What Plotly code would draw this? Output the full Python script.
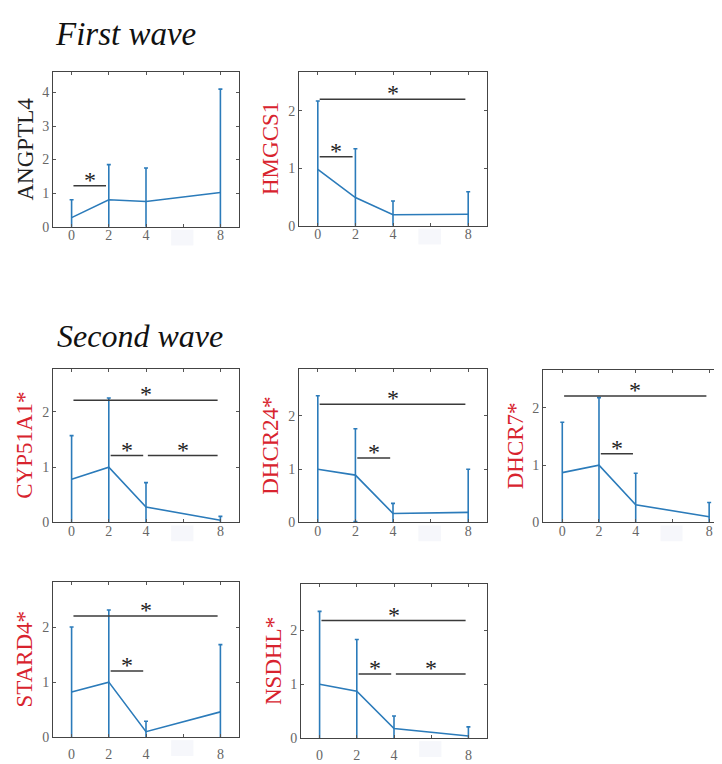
import plotly.graph_objects as go

# page body adds an 8px margin, so the figure is drawn 8px in from the corner
OFF = 8
W, H = 722 - OFF, 764 - OFF

time_points = [0, 2, 4, 8]
tick_vals = [0, 2, 4, 6, 8]
tick_text = ["0", "2", "4", "", "8"]

gene_names = ["ANGPTL4", "HMGCS1", "CYP51A1*", "DHCR24*", "DHCR7*", "STARD4*", "NSDHL*"]
gene_red = [False, True, True, True, True, True, True]

angptl4_mean = [0.27, 0.80, 0.75, 1.02]
angptl4_err = [0.53, 1.05, 1.00, 3.08]
hmgcs1_mean = [0.98, 0.49, 0.19, 0.20]
hmgcs1_err = [1.19, 0.85, 0.24, 0.39]
cyp51a1_mean = [0.78, 1.00, 0.28, 0.04]
cyp51a1_err = [0.79, 1.25, 0.44, 0.07]
dhcr24_mean = [1.00, 0.89, 0.17, 0.19]
dhcr24_err = [1.38, 0.87, 0.19, 0.81]
dhcr7_mean = [0.87, 1.00, 0.31, 0.10]
dhcr7_err = [0.88, 1.18, 0.55, 0.25]
stard4_mean = [0.82, 1.00, 0.10, 0.46]
stard4_err = [1.18, 1.31, 0.19, 1.22]
nsdhl_mean = [1.00, 0.87, 0.18, 0.04]
nsdhl_err = [1.35, 0.96, 0.23, 0.17]

# significance brackets: (from time, to time, height)
angptl4_sig = [(0, 2, 1.22)]
hmgcs1_sig = [(0, 8, 2.20), (0, 2, 1.20)]
cyp51a1_sig = [(0, 8, 2.21), (2, 4, 1.21), (4, 8, 1.21)]
dhcr24_sig = [(0, 8, 2.22), (2, 4, 1.21)]
dhcr7_sig = [(0, 8, 2.21), (2, 4, 1.20)]
stard4_sig = [(0, 8, 2.20), (2, 4, 1.20)]
nsdhl_sig = [(0, 8, 2.18), (2, 4, 1.19), (4, 8, 1.19)]

section_titles = ["First wave", "Second wave"]

means = [angptl4_mean, hmgcs1_mean, cyp51a1_mean, dhcr24_mean, dhcr7_mean, stard4_mean, nsdhl_mean]
errs = [angptl4_err, hmgcs1_err, cyp51a1_err, dhcr24_err, dhcr7_err, stard4_err, nsdhl_err]
sigs = [angptl4_sig, hmgcs1_sig, cyp51a1_sig, dhcr24_sig, dhcr7_sig, stard4_sig, nsdhl_sig]

# layout boxes in page pixels: left, right, top, bottom
boxes = [
    (53, 239, 73, 229),
    (299, 487, 73, 228),
    (53, 239, 373, 528),
    (299, 487, 373, 528),
    (543, 722, 374, 528),
    (53, 239, 588, 745),
    (301, 487, 590, 746),
]
y_ranges = [[0, 4.6], [0, 2.67], [0, 2.77], [0, 2.88], [0, 2.66], [0, 2.82], [0, 2.86]]
y_ticks = [[0, 1, 2, 3, 4]] + [[0, 1, 2]] * 6
x_ranges = [[-1, 9]] * 4 + [[-1.05, 8.7]] + [[-1, 9]] * 2
x_label_standoff = [-4, -4, -4, -4, -4, 4, 4]

LINE_C = "#2b7bba"
RED = "#d8232e"
SERIF = "Liberation Serif"


def px(x):
    return (x - OFF) / W


def py(y):
    return 1 - (y - OFF) / H


fig = go.Figure()
shapes = []
annotations = []

for i in range(7):
    idx = "" if i == 0 else str(i + 1)
    xa, ya = "x" + idx, "y" + idx
    l, r, t, b = boxes[i]
    fig.add_trace(go.Scatter(
        x=time_points, y=means[i], mode="lines",
        line=dict(color=LINE_C, width=1.6),
        error_y=dict(type="data", array=errs[i], symmetric=True, visible=True,
                     color=LINE_C, thickness=1.6, width=2),
        xaxis=xa, yaxis=ya, showlegend=False, hoverinfo="skip",
    ))
    last = (i == 4)
    fig.layout["xaxis" + idx] = dict(
        domain=[px(l), min(1.0, px(r))], anchor=ya, range=x_ranges[i],
        tickmode="array", tickvals=tick_vals, ticktext=tick_text,
        ticks="inside", ticklen=3, tickcolor="#555",
        showline=True, linecolor="#444", linewidth=1, mirror="ticks",
        showgrid=False, zeroline=False, ticklabelstandoff=x_label_standoff[i],
        tickfont=dict(family=SERIF, size=14, color="#666"),
    )
    fig.layout["yaxis" + idx] = dict(
        domain=[py(b), py(t)], anchor=xa, range=y_ranges[i],
        tickmode="array", tickvals=y_ticks[i],
        ticks="inside", ticklen=3, tickcolor="#555",
        showline=True, linecolor="#444", linewidth=1,
        mirror=False if last else "ticks",
        showgrid=False, zeroline=False,
        tickfont=dict(family=SERIF, size=14, color="#666"),
    )
    # gene label
    annotations.append(dict(
        text=gene_names[i], textangle=-90, xref="paper", yref="paper",
        x=px(l - 28), y=py((t + b) / 2), xanchor="center", yanchor="middle",
        showarrow=False,
        font=dict(family=SERIF, size=23, color=RED if gene_red[i] else "#222"),
    ))
    # faint box over hidden "6" label
    shapes.append(dict(
        type="rect", xref=xa, yref="paper", x0=5.35, x1=6.55,
        y0=py(b + 19), y1=py(b + 3),
        fillcolor="#f6f7fb", line=dict(width=0), layer="below",
    ))
    for (s0, s1, sy) in sigs[i]:
        shapes.append(dict(
            type="line", xref=xa, yref=ya, x0=s0 + 0.1, x1=s1 - 0.15, y0=sy, y1=sy,
            line=dict(color="#3a3a3a", width=1.5),
        ))
        annotations.append(dict(
            text="*", xref=xa, yref=ya, x=(s0 + s1) / 2 - 0.02, y=sy,
            xanchor="center", yanchor="bottom", yshift=-9, showarrow=False,
            font=dict(family=SERIF, size=24, color="#222"),
        ))

# section titles
annotations.append(dict(
    text="<i>" + section_titles[0] + "</i>", xref="paper", yref="paper",
    x=px(53), y=py(34), xanchor="left", yanchor="middle", showarrow=False,
    font=dict(family=SERIF, size=33, color="#111"),
))
annotations.append(dict(
    text="<i>" + section_titles[1] + "</i>", xref="paper", yref="paper",
    x=px(55), y=py(340), xanchor="left", yanchor="middle", showarrow=False,
    font=dict(family=SERIF, size=32, color="#111"),
))

fig.update_layout(
    width=W, height=H, margin=dict(l=0, r=0, t=0, b=0),
    paper_bgcolor="white", plot_bgcolor="white",
    shapes=shapes, annotations=annotations,
)

fig.write_html("out.html")
